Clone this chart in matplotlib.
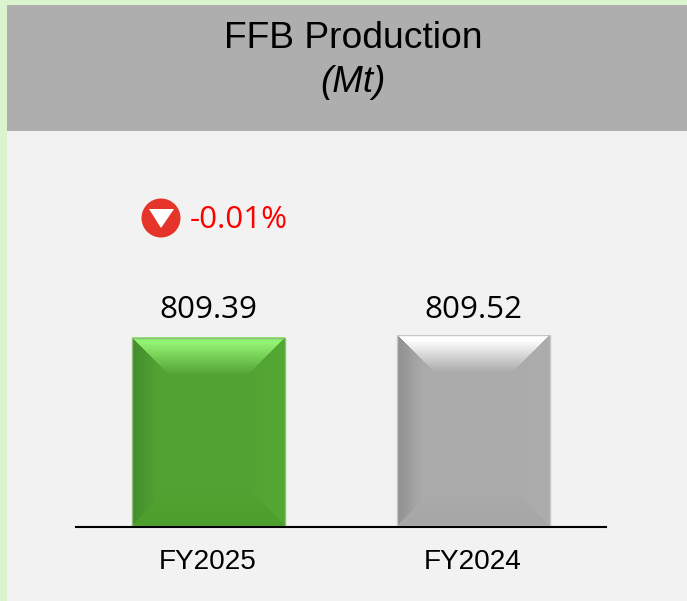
import numpy as np
import matplotlib
matplotlib.use("Agg")
import matplotlib.pyplot as plt
from matplotlib.patches import Rectangle, Circle, Polygon
from matplotlib.colors import to_rgb

categories = ["FY2025", "FY2024"]
values = [809.39, 809.52]
value_labels = ["809.39", "809.52"]
change_label = "-0.01%"
title = "FFB Production"
subtitle = "(Mt)"

W, H = 687, 601
fig = plt.figure(figsize=(W / 100, H / 100), dpi=100, facecolor="#DBF4D0")

# page furniture in pixel coordinates
bg = fig.add_axes([0, 0, 1, 1], zorder=0)
bg.set_xlim(0, W)
bg.set_ylim(H, 0)
bg.axis("off")
bg.add_patch(Rectangle((7, 131), W - 7, H - 131, fc="#F2F2F2", ec="none"))
bg.add_patch(Rectangle((7, 5), W - 7, 126, fc="#AEAEAE", ec="none"))
bg.text(353, 39, title, ha="center", va="center", fontsize=26.8,
        family="Liberation Sans", color="black")
bg.text(353, 83, subtitle, ha="center", va="center", fontsize=26.5,
        style="italic", family="Liberation Sans", color="black")
bg.add_patch(Circle((161, 218), 19.5, fc="#E5352B", ec="none"))
bg.add_patch(Polygon([(149, 209), (174, 209), (161, 228)], fc="white", ec="none"))
bg.text(190, 220, change_label, ha="left", va="center", fontsize=22.6,
        family="Open Sans", color="#FF0000")

# chart
left, right, bottom, top = 75.5, 605.5, 526.5, 131
ax = fig.add_axes([left / W, 1 - bottom / H, (right - left) / W, (bottom - top) / H], zorder=1)
ax.patch.set_alpha(0)
px_per_unit = 3 / (values[1] - values[0])
ymin = values[0] - 188.5 / px_per_unit
ymax = ymin + (bottom - top) / px_per_unit
BAR_W = 153 / 265
LABEL_Y = (bottom - 325) / (bottom - top)


def bevel_image(w, h, base, top_c, left_c, right_c, bot_c, size=38):
    base, top_c, left_c, right_c, bot_c = map(lambda c: np.array(to_rgb(c)),
                                              (base, top_c, left_c, right_c, bot_c))
    img = np.tile(base, (h, w, 1))
    yy, xx = np.mgrid[0:h, 0:w]
    dl, dr = xx + 0.5, w - xx - 0.5
    dt, db = yy + 0.5, h - yy - 0.5
    d = np.minimum.reduce([dl, dr, dt, db])
    for dist, col, start, end in ((dl, left_c, 0, 26), (dr, right_c, 0, size),
                                  (db, bot_c, 0, size), (dt, top_c, 6, size)):
        m = (dist == d) & (d < size)
        t = np.clip((dist[m] - start) / (end - start), 0, 1)[..., None]
        img[m] = col * (1 - t) + base * t
    return img


styles = [
    dict(base="#52A233", top_c="#92F271", left_c="#438E2C", right_c="#52A933", bot_c="#4B9F2A"),
    dict(base="#ABABAB", top_c="#FFFFFF", left_c="#909090", right_c="#ADADAD", bot_c="#A6A6A6"),
]
edges = ["#8DBB7C", "#C6C6C6"]
bars = ax.bar(range(len(values)), [v - ymin for v in values], bottom=ymin, width=BAR_W,
              color="none", edgecolor=edges, linewidth=1.0, zorder=3)
for bar, s, lab in zip(bars, styles, value_labels):
    x0, x1 = bar.get_x(), bar.get_x() + bar.get_width()
    y0, y1 = bar.get_y(), bar.get_y() + bar.get_height()
    img = bevel_image(153, int(round((y1 - y0) * px_per_unit)), **s)
    ax.imshow(img, extent=(x0, x1, y0, y1), aspect="auto", zorder=2, interpolation="bilinear")
    ax.text(bar.get_x() + bar.get_width() / 2, LABEL_Y, lab,
            transform=ax.get_xaxis_transform(), ha="center", va="bottom", fontsize=22.6,
            family="Open Sans", color="black")
ax.set_xlim(-0.5, 1.5)
ax.set_ylim(ymin, ymax)

ax.set_xticks(range(len(categories)))
ax.set_xticklabels(categories, fontsize=20.2, family="Liberation Sans", color="black")
ax.tick_params(axis="x", length=0, pad=16.5)
ax.set_yticks([])
for sp in ("top", "left", "right"):
    ax.spines[sp].set_visible(False)
ax.spines["bottom"].set_linewidth(1.5)
ax.spines["bottom"].set_color("black")
ax.spines["bottom"].set_zorder(5)

fig.savefig("out.png", dpi=100, facecolor=fig.get_facecolor())
